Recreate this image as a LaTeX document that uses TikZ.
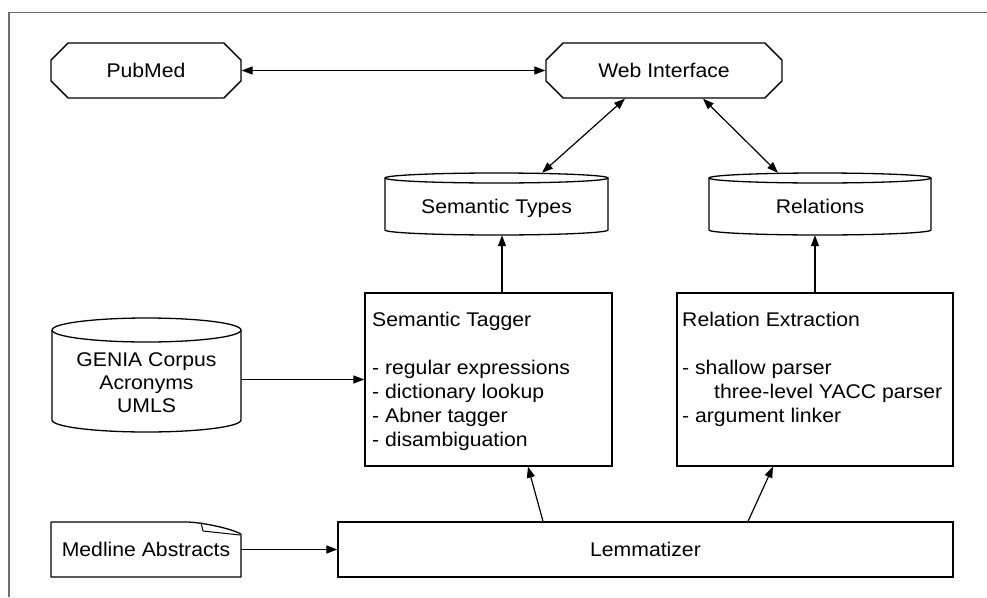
\documentclass[tikz,border=0pt]{standalone}
\usepackage{fontspec}
\setmainfont{Liberation Sans}[FakeStretch=1.07]
\usetikzlibrary{arrows.meta,shapes.misc}
\definecolor{framegray}{RGB}{110,110,110}
\begin{document}
\begin{tikzpicture}[x=1pt,y=-1pt,
  every node/.style={font=\fontsize{19.8}{24}\selectfont, inner sep=0pt},
  shp/.style={line width=1.3pt, draw=black},
  tip/.tip={Triangle[length=11pt,width=8pt]},
  arr/.style={line width=1.2pt, -tip},
  darr/.style={line width=1.2pt, tip-tip},
  lbl/.style={anchor=base},
  lbll/.style={anchor=base west},
  octo/.style={shp, chamfered rectangle, chamfered rectangle xsep=11pt, chamfered rectangle ysep=10pt, minimum height=55pt, text height=14.3pt, text depth=0pt},
  plainbox/.style={shp, rectangle}
]
\useasboundingbox (0,0) rectangle (987,597);
\draw[line width=1.3pt, framegray] (9,597) -- (9,12.5) -- (987,12.5);

% top row
\node[octo, minimum width=190pt] (pub) at (146,70.5) {PubMed};
\node[octo, minimum width=236pt] (web) at (664,70.5) {Web Interface};

% databases
\node[minimum width=223pt, minimum height=62pt] (stypes) at (496.5,204) {};
\draw[shp] (385,178) -- (385,230) arc[start angle=180,end angle=360,x radius=111.5pt,y radius=5pt] -- (608,178);
\draw[shp] (496.5,178) ellipse[x radius=111.5pt, y radius=5pt];
\node[lbl] (stypest) at (496.5,213) {Semantic Types};

\node[minimum width=222pt, minimum height=62pt] (rels) at (820,204) {};
\draw[shp] (709,178) -- (709,230) arc[start angle=180,end angle=360,x radius=111pt,y radius=5pt] -- (931,178);
\draw[shp] (820,178) ellipse[x radius=111pt, y radius=5pt];
\node[lbl] (relst) at (820,213) {Relations};

\node[minimum width=189pt, minimum height=123pt] (genia) at (146.5,379.5) {};
\draw[shp] (52,330) -- (52,420) arc[start angle=180,end angle=360,x radius=94.5pt,y radius=12pt] -- (241,330);
\draw[shp] (146.5,330) ellipse[x radius=94.5pt, y radius=12pt];
\node[lbl] (genia1) at (146.5,366) {GENIA Corpus};
\node[lbl] (genia2) at (146.5,389) {Acronyms};
\node[lbl] (genia3) at (146.5,412) {UMLS};

% processing boxes
\node[plainbox, minimum width=247pt, minimum height=173pt] (tagger) at (488.5,379.5) {};
\node[lbll] (tg1) at (372,326) {Semantic Tagger};
\node[lbll] (tg2) at (372,374) {- regular expressions};
\node[lbll] (tg3) at (372,398) {- dictionary lookup};
\node[lbll] (tg4) at (372,422) {- Abner tagger};
\node[lbll] (tg5) at (372,446) {- disambiguation};

\node[plainbox, minimum width=276pt, minimum height=173pt] (relx) at (815,379.5) {};
\node[lbll] (rx1) at (682,326) {Relation Extraction};
\node[lbll] (rx2) at (682,374) {- shallow parser};
\node[lbll] (rx3) at (714,398) {three-level YACC parser};
\node[lbll] (rx4) at (682,422) {- argument linker};

\node[plainbox, minimum width=615pt, minimum height=55pt, text height=14.3pt, text depth=0pt] (lem) at (645.5,549.5) {Lemmatizer};

% document
\node[minimum width=190pt, minimum height=55pt, text height=14.3pt, text depth=0pt] (med) at (146,549.5) {Medline Abstracts};
\draw[shp, line join=round] (51,522) -- (186,522) .. controls (200,522) and (230,528) .. (241,534) -- (241,577) -- (51,577) -- cycle;
\draw[line width=1pt, line join=round] (201,522.5) -- (203,531) -- (240,535);

% connectors
\draw[darr] (pub.east) -- (web.west);
\draw[darr] ([xshift=-39pt]web.south) -- ([xshift=45.5pt]stypes.north);
\draw[darr] ([xshift=39pt]web.south) -- ([xshift=-42pt]rels.north);
\draw[arr] ([xshift=13.5pt]tagger.north) -- ([xshift=5.5pt]stypes.south);
\draw[arr] (relx.north) -- ([xshift=-5pt]rels.south);
\draw[arr] (genia.east) -- (tagger.west);
\draw[arr] (med.east) -- (lem.west);
\draw[arr] ([xshift=-102.5pt]lem.north) -- ([xshift=39.5pt]tagger.south);
\draw[arr] ([xshift=102.5pt]lem.north) -- ([xshift=-42pt]relx.south);
\end{tikzpicture}
\end{document}
